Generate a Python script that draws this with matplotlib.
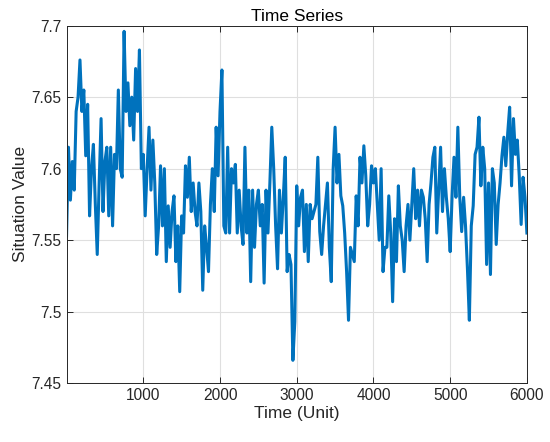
import numpy as np
import matplotlib.pyplot as plt

plt.rcParams['font.family'] = ['Liberation Sans', 'DejaVu Sans']

# time axis: one reading every 25 units
t_step = 25
t_end = 6000

# situation values, 1000 units per block
vals_0 = [7.553, 7.615, 7.578, 7.605, 7.585, 7.640, 7.650, 7.676, 7.640, 7.655,
          7.609, 7.645, 7.567, 7.600, 7.617, 7.575, 7.540, 7.590, 7.635, 7.570,
          7.605, 7.615, 7.567, 7.615, 7.560, 7.610, 7.600, 7.655, 7.600, 7.594,
          7.696, 7.640, 7.660, 7.630, 7.650, 7.620, 7.670, 7.640, 7.683, 7.600]
vals_1 = [7.610, 7.567, 7.600, 7.629, 7.585, 7.620, 7.590, 7.540, 7.560, 7.602,
          7.560, 7.600, 7.535, 7.574, 7.545, 7.570, 7.581, 7.535, 7.560, 7.514,
          7.567, 7.555, 7.602, 7.580, 7.608, 7.570, 7.590, 7.570, 7.560, 7.590,
          7.570, 7.515, 7.560, 7.545, 7.528, 7.575, 7.600, 7.570, 7.629, 7.595]
vals_2 = [7.640, 7.669, 7.560, 7.555, 7.615, 7.555, 7.600, 7.590, 7.603, 7.555,
          7.585, 7.560, 7.547, 7.615, 7.555, 7.585, 7.521, 7.585, 7.545, 7.575,
          7.585, 7.560, 7.575, 7.520, 7.585, 7.555, 7.590, 7.629, 7.600, 7.560,
          7.530, 7.585, 7.555, 7.580, 7.608, 7.528, 7.540, 7.533, 7.466, 7.493]
vals_3 = [7.588, 7.560, 7.580, 7.585, 7.542, 7.575, 7.535, 7.575, 7.565, 7.570,
          7.575, 7.608, 7.556, 7.540, 7.560, 7.575, 7.590, 7.545, 7.521, 7.600,
          7.629, 7.590, 7.610, 7.581, 7.574, 7.555, 7.528, 7.494, 7.545, 7.540,
          7.535, 7.581, 7.560, 7.608, 7.590, 7.616, 7.595, 7.560, 7.575, 7.602]
vals_4 = [7.590, 7.600, 7.575, 7.550, 7.600, 7.528, 7.545, 7.545, 7.581, 7.555,
          7.507, 7.565, 7.535, 7.588, 7.560, 7.550, 7.528, 7.560, 7.575, 7.550,
          7.575, 7.600, 7.565, 7.585, 7.560, 7.585, 7.580, 7.565, 7.535, 7.575,
          7.590, 7.608, 7.615, 7.555, 7.585, 7.615, 7.570, 7.600, 7.580, 7.565]
vals_5 = [7.542, 7.581, 7.608, 7.580, 7.629, 7.580, 7.556, 7.580, 7.560, 7.530,
          7.494, 7.560, 7.574, 7.610, 7.615, 7.636, 7.588, 7.615, 7.600, 7.533,
          7.590, 7.526, 7.600, 7.590, 7.547, 7.575, 7.590, 7.609, 7.622, 7.602,
          7.625, 7.643, 7.588, 7.635, 7.610, 7.620, 7.595, 7.561, 7.594, 7.580,
          7.555]

values = np.array(vals_0 + vals_1 + vals_2 + vals_3 + vals_4 + vals_5)
time = np.arange(0, t_end + t_step, t_step)

x_ticks = [1000, 2000, 3000, 4000, 5000, 6000]
y_ticks = [7.45, 7.5, 7.55, 7.6, 7.65, 7.7]
y_tick_labels = ['7.45', '7.5', '7.55', '7.6', '7.65', '7.7']

fig = plt.figure(figsize=(5.5, 4.42), dpi=100)
ax = fig.add_axes([0.121, 0.133, 0.837, 0.809])

ax.plot(time, values, color='#0072BD', linewidth=2.2)

ax.set_xlim(0, 6000)
ax.set_ylim(7.45, 7.7)
ax.set_xticks(x_ticks)
ax.set_yticks(y_ticks)
ax.set_yticklabels(y_tick_labels)

ax.grid(True, color='#dfdfdf', linewidth=0.8)
ax.set_axisbelow(True)
for side in ax.spines.values():
    side.set_color('#262626')
    side.set_linewidth(0.7)
ax.tick_params(direction='in', length=4, width=0.7, colors='#262626',
               labelsize=11.2, top=True, right=True, labeltop=False, labelright=False)

ax.set_title('Time Series', fontsize=12.5, color='black', pad=3)
ax.set_xlabel('Time (Unit)', fontsize=12.5, color='#262626', labelpad=2)
ax.set_ylabel('Situation Value', fontsize=12.5, color='#262626', labelpad=3)

fig.savefig('out.png', dpi=100)
